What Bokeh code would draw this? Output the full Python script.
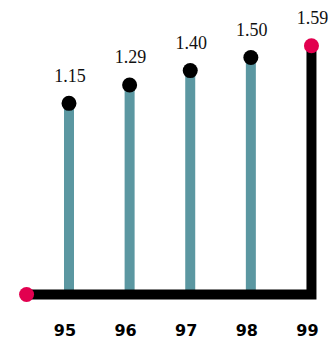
from bokeh.plotting import figure
from bokeh.models import Range1d, ColumnDataSource
from bokeh.core.properties import value
from bokeh.embed import file_html
from bokeh.resources import INLINE

years = [95, 96, 97, 98, 99]
values = [1.15, 1.29, 1.40, 1.50, 1.59]
labels = ["1.15", "1.29", "1.40", "1.50", "1.59"]
tick_labels = ["95", "96", "97", "98", "99"]
base_value = -0.31
line_start = 94.3

TEAL = "#5b97a1"
PINK = "#e2004f"

p = figure(width=334, height=339, output_backend="svg", toolbar_location=None,
           x_range=Range1d(93.87, 99.38), y_range=Range1d(-0.653, 1.935),
           min_border=0, min_border_left=0, min_border_right=0,
           min_border_top=0, min_border_bottom=0)
p.axis.visible = False
p.grid.visible = False
p.outline_line_color = None
p.background_fill_color = "white"
p.border_fill_color = "white"

src = ColumnDataSource(dict(x=years, y=values, lab=labels, tick=tick_labels,
                            base=[base_value] * len(years)))

# teal stems (except the last one, drawn in black)
stem_src = ColumnDataSource(dict(x=years[:-1], y=values[:-1], base=[base_value] * (len(years) - 1)))
p.segment(x0="x", y0="base", x1="x", y1="y", source=stem_src,
          line_color=TEAL, line_width=10)

# black baseline and final vertical line
p.line(x=[line_start, years[-1], years[-1]], y=[base_value, base_value, values[-1]],
       line_color="black", line_width=10, line_join="miter", line_cap="butt")

# black dots
p.scatter(x=years[:-1], y=values[:-1], size=15, fill_color="black", line_color=None)
# pink dots
p.scatter(x=[line_start, years[-1]], y=[base_value, values[-1]], size=15,
          fill_color=PINK, line_color=None)

# value labels
p.text(x="x", y="y", text="lab", source=src, text_align="center",
       text_baseline="middle", y_offset=-28, x_offset=1,
       text_font=value("Liberation Serif"), text_font_size="18px", text_color="#111111")

# tick labels
p.text(x="x", y="base", text="tick", source=src, text_align="center",
       text_baseline="middle", y_offset=35, x_offset=-4,
       text_font=value("DejaVu Sans"), text_font_style="bold",
       text_font_size="16px", text_color="black")

open("out.html", "w").write(file_html(p, INLINE))
